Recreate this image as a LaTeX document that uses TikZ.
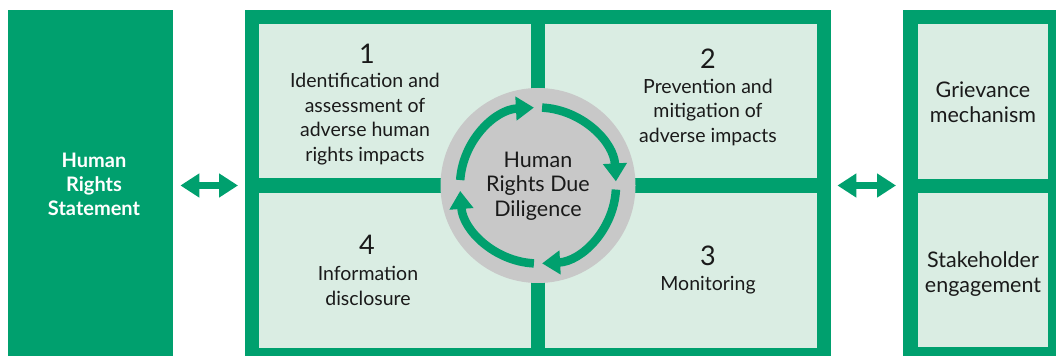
\documentclass[tikz,border=0pt]{standalone}
\usepackage{fontspec}
\setmainfont{Lato}
\usetikzlibrary{arrows.meta,calc}
\definecolor{grn}{HTML}{00A06E}
\definecolor{lgrn}{HTML}{DAEDE3}
\definecolor{cgray}{HTML}{C8C8C8}
\definecolor{txt}{HTML}{1A1A1A}
\begin{document}
\begin{tikzpicture}[x=1pt,y=1pt,
  box/.style={inner sep=0pt,anchor=south west},
  greenbox/.style={box,fill=grn},
  panel/.style={box,fill=lgrn},
  lbl/.style={text=txt,align=center,font=\fontsize{19.5}{24.5}\selectfont,inner sep=0pt},
  big/.style={lbl,font=\fontsize{21.5}{24.5}\selectfont},
  num/.style={text=txt,font=\fontsize{27}{30}\selectfont,inner sep=0pt},
  ring/.style={draw=grn,line width=8.5pt,-{Triangle[width=23pt,length=18pt]}},
  dbl/.style={draw=grn,line width=7pt,{Triangle[width=23pt,length=19pt]}-{Triangle[width=23pt,length=19pt]}}
]
\useasboundingbox (0,0) rectangle (1056,356);
% outer boxes
\node[greenbox,minimum width=165pt,minimum height=346pt] (lbox) at (8,0) {};
\node[text=white,align=center,inner sep=0pt,
  font=\fontsize{20}{24}\selectfont\bfseries] (lt) at (94,172) {Human\\Rights\\Statement};
\node[greenbox,minimum width=586pt,minimum height=346pt] (mid) at (245,0) {};
\node[greenbox,minimum width=153pt,minimum height=346pt] (rbox) at (903,0) {};
% panels
\node[panel,minimum width=272pt,minimum height=154pt] (p1) at (259,178) {};
\node[panel,minimum width=272pt,minimum height=154pt] (p2) at (545,178) {};
\node[panel,minimum width=272pt,minimum height=155pt] (p3) at (545,8) {};
\node[panel,minimum width=272pt,minimum height=155pt] (p4) at (259,8) {};
\node[panel,minimum width=130pt,minimum height=155pt] (r1) at (918,177) {};
\node[panel,minimum width=130pt,minimum height=154pt] (r2) at (918,9) {};
% circle
\coordinate (c) at (538,170.5);
\node[circle,fill=cgray,minimum size=195pt,inner sep=0pt] (circ) at (c) {};
\draw[ring] ($(c)+(176:78)$) arc[start angle=176,end angle=93,radius=78];
\draw[ring] ($(c)+(87:78)$) arc[start angle=87,end angle=3,radius=78];
\draw[ring] ($(c)+(-3:78)$) arc[start angle=-3,end angle=-87,radius=78];
\draw[ring] ($(c)+(-93:78)$) arc[start angle=-93,end angle=-176,radius=78];
\node[big] (ct) at (538,170) {Human\\Rights Due\\Diligence};
% panel texts
\node[num] (n1) at (367,302) {1};
\node[lbl] (t1) at (365,237) {Identification and\\assessment of\\adverse human\\rights impacts};
\node[num] (n2) at (708,297) {2};
\node[lbl] (t2) at (708,244) {Prevention and\\mitigation of\\adverse impacts};
\node[num] (n3) at (708,100) {3};
\node[lbl] (t3) at (708,71) {Monitoring};
\node[num] (n4) at (367,111) {4};
\node[lbl] (t4) at (368,70) {Information\\disclosure};
\node[big] (g1) at (983,254) {Grievance\\mechanism};
\node[big] (g2) at (983,82) {Stakeholder\\engagement};
% double arrows
\draw[dbl] ([xshift=7pt]lbox.east |- c) -- ([xshift=-7pt]mid.west |- c);
\draw[dbl] ([xshift=6pt]mid.east |- c) -- ([xshift=-7pt]rbox.west |- c);
\end{tikzpicture}
\end{document}
